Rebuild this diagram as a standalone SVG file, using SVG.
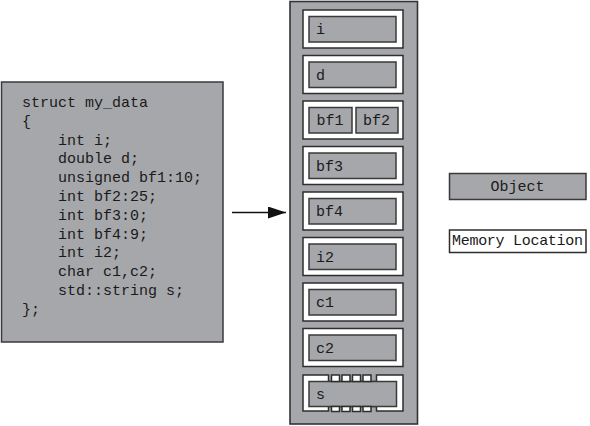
<svg xmlns="http://www.w3.org/2000/svg" width="590" height="426" viewBox="0 0 590 426">
  <defs>
    <style>
      .obj { fill: #a6a7ab; stroke: #3a3a3a; stroke-width: 1.5; }
      .loc { fill: #ffffff; stroke: #2e2e2e; stroke-width: 1.5; }
      .col { fill: #a6a7ab; stroke: #333333; stroke-width: 1.6; }
      .code { font-family: "Liberation Mono", "Courier New", monospace; font-size: 15px; fill: #1a1a1a; }
      .lbl { font-family: "Liberation Mono", "Courier New", monospace; font-size: 15px; fill: #1a1a1a; }
      .conn { stroke: #111111; stroke-width: 1.6; fill: none; }
    </style>
    <marker id="arrowBig" viewBox="0 0 18 12" refX="18" refY="6" markerWidth="18" markerHeight="12" markerUnits="userSpaceOnUse" orient="auto">
      <path d="M0,0 L18,6 L0,12 Z" fill="#111111"/>
    </marker>
  </defs>

  <!-- struct source listing -->
  <g id="struct-source">
    <rect class="obj" x="1.5" y="82" width="221.5" height="260"/>
    <text class="code" x="22" y="107">struct my_data</text>
    <text class="code" x="22" y="125.8">{</text>
    <text class="code" x="58" y="144.6">int i;</text>
    <text class="code" x="58" y="163.4">double d;</text>
    <text class="code" x="58" y="182.2">unsigned bf1:10;</text>
    <text class="code" x="58" y="201">int bf2:25;</text>
    <text class="code" x="58" y="219.8">int bf3:0;</text>
    <text class="code" x="58" y="238.6">int bf4:9;</text>
    <text class="code" x="58" y="257.4">int i2;</text>
    <text class="code" x="58" y="276.2">char c1,c2;</text>
    <text class="code" x="58" y="295">std::string s;</text>
    <text class="code" x="22" y="313.8">};</text>
  </g>

  <!-- connectors -->
  <g id="connectors">
    <line class="conn" x1="232" y1="212.5" x2="286" y2="212.5" marker-end="url(#arrowBig)"/>
  </g>

  <!-- object layout column -->
  <g id="layout">
    <rect class="col" x="290" y="1.5" width="127.5" height="422.5"/>
  </g>

  <g id="mem-i">
    <rect class="loc" x="303" y="10" width="100" height="38"/>
    <rect class="obj" x="309" y="16.5" width="87" height="25.5"/>
    <text class="lbl" x="316" y="34">i</text>
  </g>

  <g id="mem-d">
    <rect class="loc" x="303" y="55.5" width="100" height="38"/>
    <rect class="obj" x="309" y="62" width="87" height="25.5"/>
    <text class="lbl" x="316" y="79.5">d</text>
  </g>

  <g id="mem-bf1-bf2">
    <rect class="loc" x="303" y="101" width="100" height="38"/>
    <g id="obj-bf1">
      <rect class="obj" x="309" y="107.5" width="43" height="25.5"/>
      <text class="lbl" x="316.5" y="125">bf1</text>
    </g>
    <g id="obj-bf2">
      <rect class="obj" x="356" y="107.5" width="42" height="25.5"/>
      <text class="lbl" x="363" y="125">bf2</text>
    </g>
  </g>

  <g id="mem-bf3">
    <rect class="loc" x="303" y="146.5" width="100" height="38"/>
    <rect class="obj" x="309" y="153" width="87" height="25.5"/>
    <text class="lbl" x="316" y="170.5">bf3</text>
  </g>

  <g id="mem-bf4">
    <rect class="loc" x="303" y="192" width="100" height="38"/>
    <rect class="obj" x="309" y="198.5" width="87" height="25.5"/>
    <text class="lbl" x="316" y="216">bf4</text>
  </g>

  <g id="mem-i2">
    <rect class="loc" x="303" y="237.5" width="100" height="38"/>
    <rect class="obj" x="309" y="244" width="87" height="25.5"/>
    <text class="lbl" x="316" y="261.5">i2</text>
  </g>

  <g id="mem-c1">
    <rect class="loc" x="303" y="283" width="100" height="38"/>
    <rect class="obj" x="309" y="289.5" width="87" height="25.5"/>
    <text class="lbl" x="316" y="307">c1</text>
  </g>

  <g id="mem-c2">
    <rect class="loc" x="303" y="328.5" width="100" height="38"/>
    <rect class="obj" x="309" y="335" width="87" height="25.5"/>
    <text class="lbl" x="316" y="352.5">c2</text>
  </g>

  <!-- std::string spans several memory locations -->
  <g id="mem-s">
    <path class="loc" d="M303,375 H328.5 V381.5 H376.5 V375 H403 V411 H376.5 V406.5 H328.5 V411 H303 Z"/>
    <rect class="obj" x="309" y="381.5" width="87.5" height="25"/>
    <rect class="loc" x="331.5" y="375" width="8" height="6.5"/>
    <rect class="loc" x="342" y="375" width="8" height="6.5"/>
    <rect class="loc" x="352.5" y="375" width="8" height="6.5"/>
    <rect class="loc" x="363" y="375" width="8" height="6.5"/>
    <rect class="loc" x="331.5" y="406.5" width="8" height="5"/>
    <rect class="loc" x="342" y="406.5" width="8" height="5"/>
    <rect class="loc" x="352.5" y="406.5" width="8" height="5"/>
    <rect class="loc" x="363" y="406.5" width="8" height="5"/>
    <text class="lbl" x="316" y="399">s</text>
  </g>

  <!-- legend -->
  <g id="legend-object">
    <rect class="obj" x="449.5" y="173.5" width="136.5" height="26"/>
    <text class="lbl" x="517.5" y="191" text-anchor="middle">Object</text>
  </g>
  <g id="legend-memory-location">
    <rect class="loc" x="449.5" y="230" width="136.5" height="22.5"/>
    <text class="lbl" x="517.5" y="244.5" text-anchor="middle" textLength="131">Memory Location</text>
  </g>
</svg>
